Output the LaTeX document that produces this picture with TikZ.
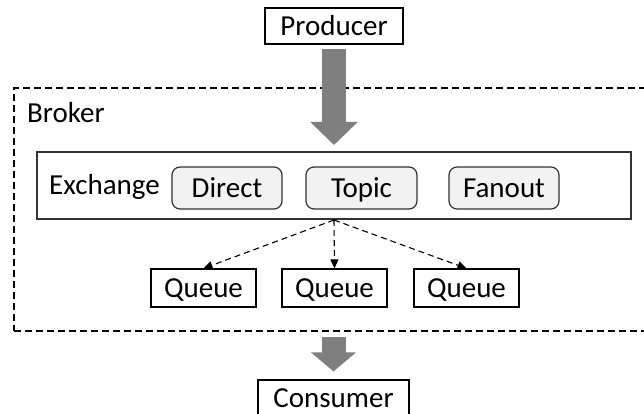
\documentclass[tikz,border=0pt]{standalone}
\usepackage{fontspec}
\setmainfont{Carlito}
\usetikzlibrary{arrows.meta}
\definecolor{arrowgray}{HTML}{7F7F7F}
\definecolor{boxfill}{HTML}{F2F2F2}
\definecolor{darkline}{HTML}{333333}
\begin{document}
\begin{tikzpicture}[x=1pt,y=-1pt,
  every node/.style={font=\fontsize{29}{32}\selectfont, inner sep=0pt, text height=18.5pt, text depth=0pt},
  plainbox/.style={draw=black, line width=1.2pt, minimum height=36pt},
  typebox/.style={draw=darkline, fill=boxfill, rounded corners=8pt, line width=1.2pt, minimum width=110pt, minimum height=42pt},
  queuebox/.style={draw=black, line width=1.2pt, minimum width=105pt, minimum height=38pt},
  bigarrow/.style={draw=arrowgray, line width=24pt},
  flow/.style={dashed, dash pattern=on 6pt off 4pt, line width=1.1pt, -{Triangle[length=9pt,width=8pt]}}
]
\useasboundingbox (0,0) rectangle (644,414);
\node[draw, dashed, dash pattern=on 7pt off 4pt, line width=1.3pt, minimum width=640pt, minimum height=243pt, text height=, text depth=] (broker) at (334,209.5) {};
\node[anchor=base west] (brokerlbl) at (27,123) {Broker};
\node[plainbox, minimum width=138pt] (producer) at (334,26) {Producer};
\node[draw=darkline, line width=2pt, minimum width=594pt, minimum height=67pt, text height=, text depth=] (exchange) at (334,185.5) {};
\node[anchor=base west] (exlbl) at (49,194) {Exchange};
\node[typebox] (direct) at (227,188) {Direct};
\node[typebox, minimum width=111pt] (topic) at (361.5,188) {Topic};
\node[typebox] (fanout) at (504,188) {Fanout};
\node[queuebox] (q1) at (203.5,288) {Queue};
\node[queuebox] (q2) at (334.5,288) {Queue};
\node[queuebox] (q3) at (466.5,288) {Queue};
\node[plainbox, minimum width=151pt] (consumer) at (333.5,398) {Consumer};
\draw[bigarrow, shorten <=4pt, shorten >=6pt, -{Triangle[length=23pt,width=46pt,fill=arrowgray,color=arrowgray]}] (producer.south) -- (exchange.north);
\draw[bigarrow, shorten <=5pt, shorten >=8pt, -{Triangle[length=19pt,width=44pt,fill=arrowgray,color=arrowgray]}] (broker.south -| consumer.north) -- (consumer.north);
\draw[flow] (exchange.south) -- (q1.north);
\draw[flow] (exchange.south) -- (q2.north);
\draw[flow] (exchange.south) -- (q3.north);
\end{tikzpicture}
\end{document}
